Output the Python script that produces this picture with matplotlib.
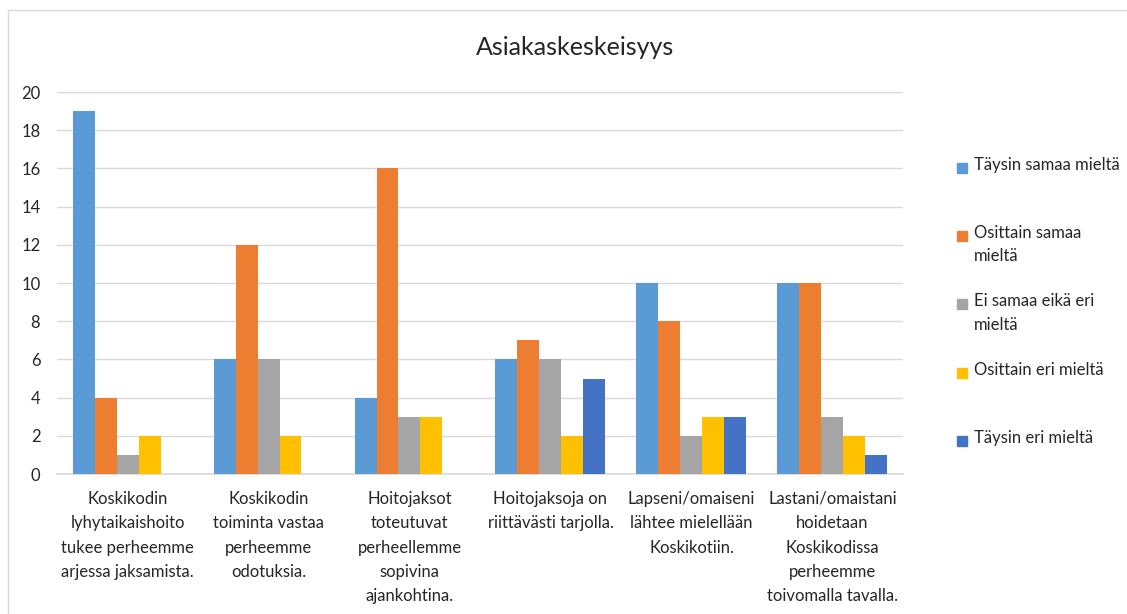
import numpy as np
import matplotlib.pyplot as plt
from matplotlib.patches import Rectangle

plt.rcParams['font.family'] = ['Lato', 'DejaVu Sans']

categories = [
    "Koskikodin\nlyhytaikaishoito\ntukee perheemme\narjessa jaksamista.",
    "Koskikodin\ntoiminta vastaa\nperheemme\nodotuksia.",
    "Hoitojaksot\ntoteutuvat\nperheellemme\nsopivina\najankohtina.",
    "Hoitojaksoja on\nriittävästi tarjolla.",
    "Lapseni/omaiseni\nlähtee mielellään\nKoskikotiin.",
    "Lastani/omaistani\nhoidetaan\nKoskikodissa\nperheemme\ntoivomalla tavalla.",
]
series_names = [
    "Täysin samaa mieltä",
    "Osittain samaa\nmieltä",
    "Ei samaa eikä eri\nmieltä",
    "Osittain eri mieltä",
    "Täysin eri mieltä",
]
taysin_samaa = [19, 6, 4, 6, 10, 10]
osittain_samaa = [4, 12, 16, 7, 8, 10]
ei_samaa_eika_eri = [1, 6, 3, 6, 2, 3]
osittain_eri = [2, 2, 3, 2, 3, 2]
taysin_eri = [0, 0, 0, 5, 3, 1]
values = [taysin_samaa, osittain_samaa, ei_samaa_eika_eri, osittain_eri, taysin_eri]
colors = ["#5B9BD5", "#ED7D31", "#A5A5A5", "#FFC000", "#4472C4"]

fig = plt.figure(figsize=(11.27, 6.14), dpi=100)
ax = fig.add_axes([0.0506, 0.228, 0.7506, 0.622])

x = np.arange(len(categories))
w = 0.156
for i, (vals, c) in enumerate(zip(values, colors)):
    ax.bar(x + (i - 2) * w, vals, width=w, color=c, edgecolor='none', zorder=3)

ax.set_xlim(-0.5, len(categories) - 0.5)
ax.set_ylim(0, 20)
ax.set_yticks(range(0, 21, 2))
ax.grid(axis='y', color='#D9D9D9', linewidth=1, zorder=0)
for s in ['top', 'right', 'left']:
    ax.spines[s].set_visible(False)
ax.spines['bottom'].set_color('#D9D9D9')
ax.spines['bottom'].set_linewidth(1.2)
ax.tick_params(axis='both', length=0, labelsize=12, colors='#262626')
ax.tick_params(axis='y', pad=12)
ax.set_xticks(x)
ax.set_xticklabels(categories, fontsize=12, linespacing=1.65)
ax.tick_params(axis='x', pad=12)
for lbl in ax.get_xticklabels():
    lbl.set_verticalalignment('top')

fig.text(0.51, 0.922, "Asiakaskeskeisyys", ha='center', va='center', fontsize=18, color='#262626')

# legend, drawn by hand so the swatch sits on the first line
for i, (name, c) in enumerate(zip(series_names, colors)):
    y = 1 - (167 + i * 68.2) / 614
    fig.patches.append(Rectangle((957 / 1127, y - 6 / 614), 10 / 1127, 10 / 614,
                                 transform=fig.transFigure, color=c))
    fig.text(974 / 1127, y + 10 / 614, name, ha='left', va='top', fontsize=12,
             color='#262626', linespacing=1.55)

# chart frame
fig.patches.append(Rectangle((8 / 1127, -0.1), 1.2, 1.1 - 10 / 614, transform=fig.transFigure,
                             fill=False, edgecolor='#D9D9D9', linewidth=1))

fig.savefig("out.png", dpi=100)
